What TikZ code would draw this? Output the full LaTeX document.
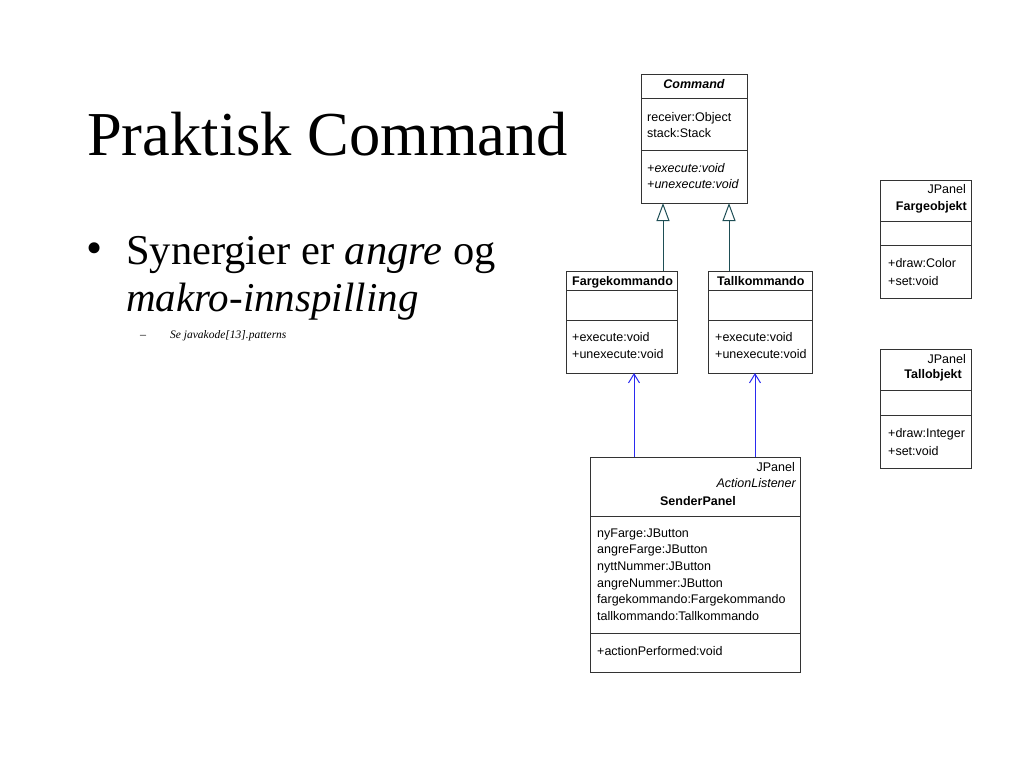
\documentclass[tikz,border=0pt]{standalone}
\usepackage{fontspec}
\setmainfont{Liberation Serif}
\newfontfamily\uml{Liberation Sans}
\usetikzlibrary{arrows.meta}
\definecolor{boxc}{HTML}{333333}
\definecolor{tealc}{HTML}{1E4E55}
\definecolor{bluec}{HTML}{2A2AF0}
\begin{document}
\begin{tikzpicture}[x=1pt,y=-1pt,
  box/.style={draw=boxc, line width=1pt, rectangle, inner sep=0pt, outer sep=0pt},
  sep/.style={draw=boxc, line width=1pt},
  t/.style={inner sep=0pt, anchor=base west, font=\uml\fontsize{12.5}{15}\selectfont},
  tr/.style={t, anchor=base east},
  tc/.style={t, anchor=base},
  inh/.style={draw=tealc, line width=1pt, -{Triangle[open,length=18pt,width=13pt,fill=white]}},
  dep/.style={draw=bluec, line width=1pt, -{Straight Barb[length=9pt,width=11pt]}},
  txt/.style={inner sep=0pt, anchor=base west}
]
\useasboundingbox (0,0) rectangle (1024,768);

% slide text
\node[txt, font=\fontsize{62.5}{70}\selectfont] (title) at (87,155) {Praktisk Command};
\node[txt, font=\fontsize{46}{50}\selectfont] (bdot) at (86,263) {•};
\node[txt, font=\fontsize{42.5}{48}\selectfont] (b1) at (126,264) {Synergier er \textit{angre} og};
\node[txt, font=\fontsize{41}{48}\selectfont] (b2) at (126,311) {\textit{makro-innspilling}};
\node[txt, font=\fontsize{12}{14}\selectfont] (sdash) at (140,338) {–};
\node[txt, font=\fontsize{11.5}{14}\selectfont] (s1) at (170,338) {\textit{Se javakode[13].patterns}};

% Command
\node[box, minimum width=106pt, minimum height=129pt] (cmd) at (694,138.5) {};
\draw[sep] ([yshift=-24pt]cmd.north west) -- ([yshift=-24pt]cmd.north east);
\draw[sep] ([yshift=-76pt]cmd.north west) -- ([yshift=-76pt]cmd.north east);
\node[tc] (cmdn) at (694,88) {\bfseries\itshape Command};
\node[t] (cmda1) at (647,121) {receiver:Object};
\node[t] (cmda2) at (647,137) {stack:Stack};
\node[t] (cmdm1) at (647,172) {\itshape +execute:void};
\node[t] (cmdm2) at (647,188) {\itshape +unexecute:void};

% Fargekommando
\node[box, minimum width=111pt, minimum height=102pt] (fk) at (621.5,322) {};
\draw[sep] ([yshift=-19pt]fk.north west) -- ([yshift=-19pt]fk.north east);
\draw[sep] ([yshift=-49pt]fk.north west) -- ([yshift=-49pt]fk.north east);
\node[t] (fkn) at (572,285) {\bfseries Fargekommando};
\node[t] (fkm1) at (572,341) {+execute:void};
\node[t] (fkm2) at (572,358) {+unexecute:void};

% Tallkommando
\node[box, minimum width=104pt, minimum height=102pt] (tk) at (760,322) {};
\draw[sep] ([yshift=-19pt]tk.north west) -- ([yshift=-19pt]tk.north east);
\draw[sep] ([yshift=-49pt]tk.north west) -- ([yshift=-49pt]tk.north east);
\node[t] (tkn) at (717,285) {\bfseries Tallkommando};
\node[t] (tkm1) at (715,341) {+execute:void};
\node[t] (tkm2) at (715,358) {+unexecute:void};

% SenderPanel
\node[box, minimum width=210pt, minimum height=215pt] (sp) at (695,564.5) {};
\draw[sep] ([yshift=-59pt]sp.north west) -- ([yshift=-59pt]sp.north east);
\draw[sep] ([yshift=-176pt]sp.north west) -- ([yshift=-176pt]sp.north east);
\node[tr] (spj) at (795,471) {JPanel};
\node[tr] (spa) at (796,487) {\itshape ActionListener};
\node[tc] (spn) at (698,505) {\bfseries SenderPanel};
\node[t] (spa1) at (597,537) {nyFarge:JButton};
\node[t] (spa2) at (597,553.7) {angreFarge:JButton};
\node[t] (spa3) at (597,570.4) {nyttNummer:JButton};
\node[t] (spa4) at (597,587.1) {angreNummer:JButton};
\node[t] (spa5) at (597,603.8) {fargekommando:Fargekommando};
\node[t] (spa6) at (597,620.5) {tallkommando:Tallkommando};
\node[t] (spm1) at (597,655) {+actionPerformed:void};

% Fargeobjekt
\node[box, minimum width=91pt, minimum height=118pt] (fo) at (925.5,239) {};
\draw[sep] ([yshift=-41pt]fo.north west) -- ([yshift=-41pt]fo.north east);
\draw[sep] ([yshift=-65pt]fo.north west) -- ([yshift=-65pt]fo.north east);
\node[tr] (foj) at (966,193) {JPanel};
\node[tr] (fon) at (967,210) {\bfseries Fargeobjekt};
\node[t] (fom1) at (888,267) {+draw:Color};
\node[t] (fom2) at (888,285) {+set:void};

% Tallobjekt
\node[box, minimum width=91pt, minimum height=119pt] (to) at (925.5,408.5) {};
\draw[sep] ([yshift=-41pt]to.north west) -- ([yshift=-41pt]to.north east);
\draw[sep] ([yshift=-66pt]to.north west) -- ([yshift=-66pt]to.north east);
\node[tr] (toj) at (966,363) {JPanel};
\node[tr] (ton) at (962,378) {\bfseries Tallobjekt};
\node[t] (tom1) at (888,437) {+draw:Integer};
\node[t] (tom2) at (888,455) {+set:void};

% connectors
\coordinate (x1) at (663,0);
\coordinate (x2) at (729,0);
\coordinate (x3) at (634,0);
\coordinate (x4) at (755,0);
\draw[inh] (fk.north -| x1) -- (cmd.south -| x1);
\draw[inh] (tk.north -| x2) -- (cmd.south -| x2);
\draw[dep] (sp.north -| x3) -- (fk.south -| x3);
\draw[dep] (sp.north -| x4) -- (tk.south -| x4);
\end{tikzpicture}
\end{document}
